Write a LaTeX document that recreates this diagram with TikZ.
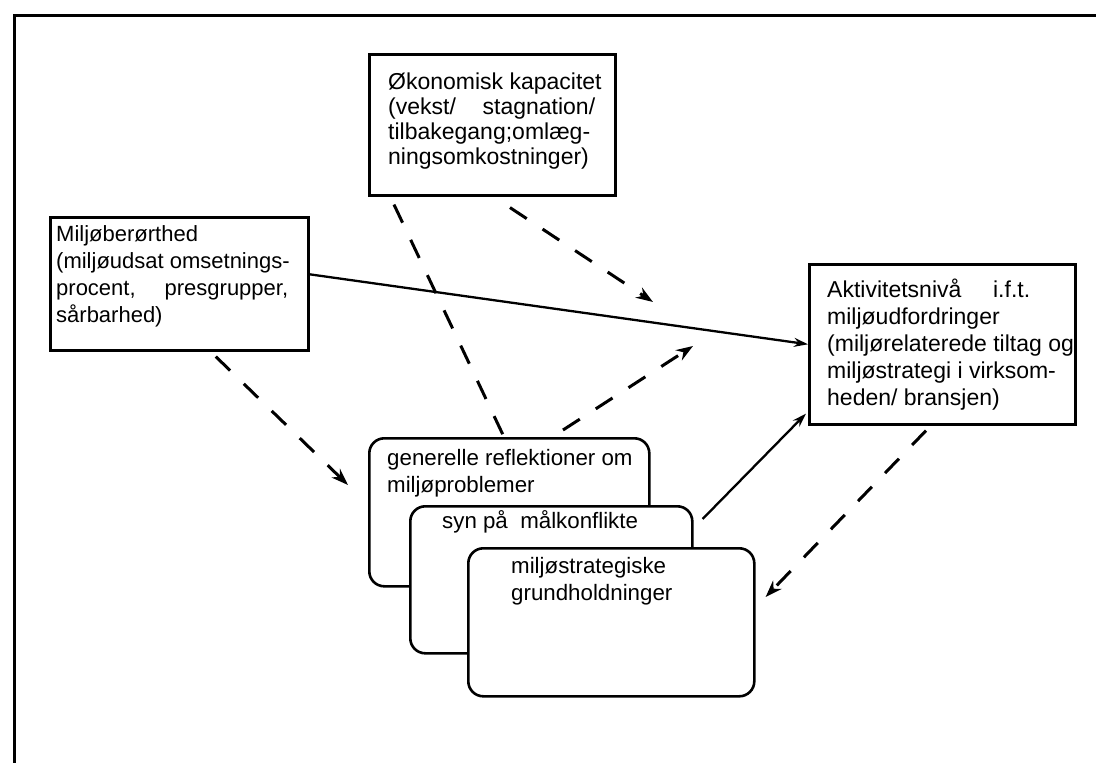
\documentclass[tikz,border=0pt]{standalone}
\usepackage{fontspec}
\setmainfont{Liberation Sans}
\usetikzlibrary{arrows.meta,calc}
\begin{document}
\begin{tikzpicture}[x=1pt,y=-1pt,
  frame/.style={line width=3pt},
  sqbox/.style={draw, line width=2.6pt, fill=white, inner sep=0pt, anchor=north west},
  rbox/.style={draw, line width=2.6pt, fill=white, rounded corners=15pt, inner sep=0pt, anchor=north west},
  txt/.style={anchor=base west, inner sep=0pt},
  solidarrow/.style={line width=2.3pt, -{Stealth[length=14pt,width=9pt]}},
  dasharrow/.style={line width=3pt, dash pattern=on 20pt off 19pt, -{Stealth[length=17pt,width=12pt]}},
  dashline/.style={line width=3pt, dash pattern=on 20pt off 19pt},
]
\useasboundingbox (0,0) rectangle (1096,763);
\fill[white] (0,0) rectangle (1096,763);
\draw[frame] (14,763) -- (14,15) -- (1096,15);

% square boxes
\node[sqbox, minimum width=246pt, minimum height=141pt] (E) at (368,53) {};
\node[sqbox, minimum width=258pt, minimum height=133pt] (L) at (49,216) {};
\node[sqbox, minimum width=266pt, minimum height=160pt] (R) at (808,263) {};

% rounded stacked boxes
\node[rbox, minimum width=280pt, minimum height=148pt] (B1) at (368,437) {};
\node[rbox, minimum width=282pt, minimum height=147pt] (B2) at (409,505) {};
\node[rbox, minimum width=286pt, minimum height=148pt] (B3) at (467,547) {};

% texts
\node[txt] (Et) at (388,89) {\parbox[t]{240pt}{\raggedright\fontsize{23}{25}\selectfont
  Økonomisk kapacitet\\
  \makebox[207pt][s]{(vekst/\hfill stagnation/}\\
  tilbakegang;omlæg-\\
  ningsomkostninger)}};
\node[txt] (Lt) at (56,241) {\parbox[t]{250pt}{\raggedright\fontsize{22}{27}\selectfont
  Miljøberørthed\\
  (miljøudsat omsetnings-\\
  \makebox[232pt][s]{procent,\hfill presgrupper,}\\
  sårbarhed)}};
\node[txt] (Rt) at (827,297) {\parbox[t]{260pt}{\raggedright\fontsize{23}{27}\selectfont
  \makebox[203pt][s]{Aktivitetsnivå\hfill i.f.t.}\\
  miljøudfordringer\\
  (miljørelaterede tiltag og\\
  miljøstrategi i virksom-\\
  heden/ bransjen)}};
\node[txt] (B1t) at (387,465) {\parbox[t]{260pt}{\raggedright\fontsize{22.3}{27}\selectfont
  generelle reflektioner om\\
  miljøproblemer}};
\node[txt] (B2t) at (442,528) {\fontsize{22.3}{27}\selectfont syn på\ \ målkonflikte};
\node[txt] (B3t) at (511,573) {\parbox[t]{260pt}{\raggedright\fontsize{22.3}{27}\selectfont
  miljøstrategiske\\
  grundholdninger}};

% free arrow ends
\coordinate (t5) at (653,302);
\coordinate (t6) at (693,346);

% connectors
\draw[solidarrow] ($(L.north east)!0.43!(L.south east)$) -- (R.west);
\draw[solidarrow] ($(B2.north east)+(9,14)$) -- ($(R.south west)+(-2,-12)$);
\draw[dasharrow] ($(L.south west)!0.64!(L.south east)+(0,5)$) -- ($(B1.north west)+(-20,48)$);
\draw[dashline] ($(E.south west)+(26,8)$) -- ($(B1.north west)+(136,0)$);
\draw[dasharrow] ($(E.south west)+(142,11)$) -- (t5);
\draw[dasharrow] ($(B1.north west)+(195,-7)$) -- (t6);
\draw[dasharrow] ($(R.south west)+(118,5)$) -- ($(B3.north east)+(10,50)$);
\end{tikzpicture}
\end{document}
